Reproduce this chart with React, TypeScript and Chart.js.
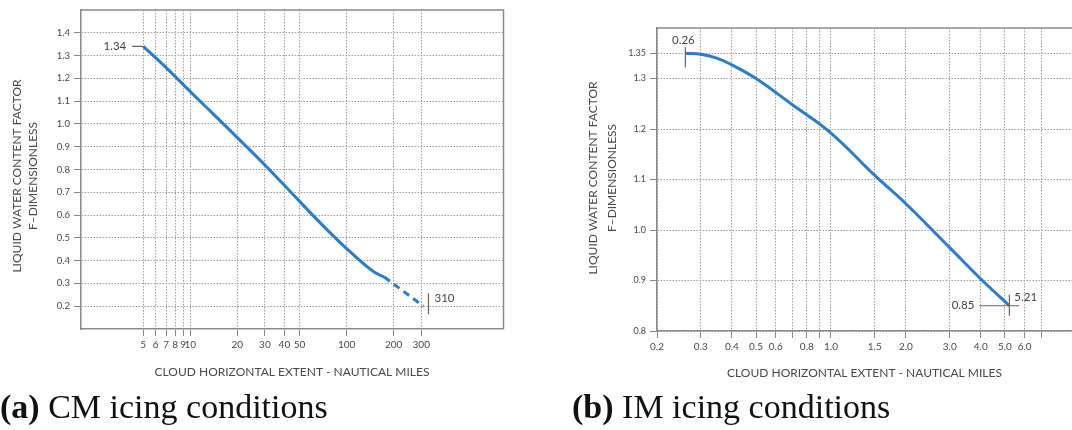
import React, { useEffect, useRef } from "react";
import { Chart, registerables } from "chart.js";

Chart.register(...registerables);

// ---------- (a) CM icing conditions ----------
const cmSolidX = [5, 7, 10, 14, 20, 30, 50, 70, 100, 150, 174];
const cmSolidY = [1.34, 1.247, 1.142, 1.044, 0.94, 0.82, 0.66, 0.556, 0.453, 0.35, 0.328];
const cmDashX = [174, 310];
const cmDashY = [0.328, 0.2];
const cmXTicks = [5, 6, 7, 8, 9, 10, 20, 30, 40, 50, 100, 200, 300];
const cmXLabels = ["5", "6", "7", "8", "9", "10", "20", "30", "40", "50", "100", "200", "300"];
const cmYTicks = [0.2, 0.3, 0.4, 0.5, 0.6, 0.7, 0.8, 0.9, 1.0, 1.1, 1.2, 1.3, 1.4];
const cmYLabels = ["0.2", "0.3", "0.4", "0.5", "0.6", "0.7", "0.8", "0.9", "1.0", "1.1", "1.2", "1.3", "1.4"];

// ---------- (b) IM icing conditions ----------
const imX = [0.26, 0.3, 0.35, 0.4, 0.5, 0.7, 1.0, 1.5, 2.0, 3.0, 4.0, 5.21];
const imY = [1.35, 1.348, 1.34, 1.327, 1.3, 1.248, 1.192, 1.108, 1.052, 0.965, 0.903, 0.85];
const imXTicks = [0.2, 0.3, 0.4, 0.5, 0.6, 0.7, 0.8, 0.9, 1.0, 1.5, 2.0, 3.0, 4.0, 5.0, 6.0, 7.0];
const imXLabels = ["0.2", "0.3", "0.4", "0.5", "0.6", "", "0.8", "", "1.0", "1.5", "2.0", "3.0", "4.0", "5.0", "6.0", ""];
const imYTicks = [0.8, 0.9, 1.0, 1.1, 1.2, 1.3, 1.35];
const imYLabels = ["0.8", "0.9", "1.0", "1.1", "1.2", "1.3", "1.35"];

const xTitle = "CLOUD HORIZONTAL EXTENT - NAUTICAL MILES";
const yTitle = ["LIQUID WATER CONTENT FACTOR", "F\u2013DIMENSIONLESS"];

const FONT = "Lato, 'Open Sans', sans-serif";
const GRID = "#a0a0a0";
const AXIS = "#8a8a8a";
const TEXT = "#4a4a4a";
const BLUE = "#2c7cc6";

function pts(xs: number[], ys: number[]) {
  return xs.map((x, i) => ({ x, y: ys[i] }));
}

function framePlugin(drawRight: boolean) {
  return {
    id: "frame",
    afterDraw(chart: any) {
      const { ctx, chartArea: a } = chart;
      ctx.save();
      ctx.strokeStyle = AXIS;
      ctx.lineWidth = 1.5;
      ctx.beginPath();
      ctx.moveTo(a.left, a.top);
      ctx.lineTo(a.right + 0.5, a.top);
      if (drawRight) ctx.lineTo(a.right + 0.5, a.bottom);
      ctx.stroke();
      ctx.restore();
    },
  };
}

function yTitlePlugin(x1: number, x2: number, cy: number) {
  return {
    id: "ytitle",
    afterDraw(chart: any) {
      const { ctx } = chart;
      ctx.save();
      ctx.fillStyle = TEXT;
      ctx.font = `12px ${FONT}`;
      ctx.textAlign = "center";
      ctx.textBaseline = "middle";
      [x1, x2].forEach((x, i) => {
        ctx.save();
        ctx.translate(x, cy);
        ctx.rotate(-Math.PI / 2);
        ctx.fillText(yTitle[i], 0, 0);
        ctx.restore();
      });
      ctx.restore();
    },
  };
}

const cmNotes = {
  id: "cmnotes",
  afterDatasetsDraw(chart: any) {
    const { ctx, scales } = chart;
    const sx = scales.x.getPixelForValue(cmSolidX[0]);
    const sy = scales.y.getPixelForValue(cmSolidY[0]);
    const ex = scales.x.getPixelForValue(cmDashX[1]);
    const ey = scales.y.getPixelForValue(cmDashY[1]);
    ctx.save();
    ctx.strokeStyle = "#666";
    ctx.lineWidth = 1.2;
    ctx.beginPath();
    ctx.moveTo(sx - 11, sy);
    ctx.lineTo(sx, sy);
    ctx.moveTo(ex + 5, ey - 13);
    ctx.lineTo(ex + 5, ey + 8);
    ctx.stroke();
    ctx.fillStyle = "#444";
    ctx.font = `11.5px ${FONT}`;
    ctx.textBaseline = "middle";
    ctx.textAlign = "right";
    ctx.fillText(cmSolidY[0].toFixed(2), sx - 17, sy);
    ctx.textAlign = "left";
    ctx.fillText(String(cmDashX[1]), ex + 11, ey - 8);
    ctx.restore();
  },
};

const imNotes = {
  id: "imnotes",
  afterDatasetsDraw(chart: any) {
    const { ctx, scales } = chart;
    const n = imX.length - 1;
    const sx = scales.x.getPixelForValue(imX[0]);
    const sy = scales.y.getPixelForValue(imY[0]);
    const ex = scales.x.getPixelForValue(imX[n]);
    const ey = scales.y.getPixelForValue(imY[n]);
    ctx.save();
    ctx.strokeStyle = "#666";
    ctx.lineWidth = 1.2;
    ctx.beginPath();
    ctx.moveTo(sx, sy - 6);
    ctx.lineTo(sx, sy + 14);
    ctx.moveTo(ex, ey - 11);
    ctx.lineTo(ex, ey + 10);
    ctx.moveTo(ex - 30, ey);
    ctx.lineTo(ex + 10, ey);
    ctx.stroke();
    ctx.fillStyle = "#444";
    ctx.font = `11.5px ${FONT}`;
    ctx.textBaseline = "middle";
    ctx.textAlign = "center";
    ctx.fillText(imX[0].toFixed(2), sx - 2, sy - 13);
    ctx.textAlign = "right";
    ctx.fillText(imY[n].toFixed(2), ex - 35, ey);
    ctx.textAlign = "left";
    ctx.fillText(imX[n].toFixed(2), ex + 5, ey - 8);
    ctx.restore();
  },
};

function makeOptions(o: {
  xmin: number; xmax: number; xTicks: number[]; xLabels: string[];
  ymin: number; ymax: number; yTicks: number[]; yLabels: string[];
  yWidth: number; xHeight: number; padTop: number; padRight: number;
  yFont: number; xTitlePad: number;
}) {
  return {
    responsive: false,
    animation: false as const,
    devicePixelRatio: 1,
    layout: { padding: { top: o.padTop, right: o.padRight, left: 0, bottom: 0 } },
    plugins: { legend: { display: false }, tooltip: { enabled: false } },
    scales: {
      x: {
        type: "logarithmic" as const,
        min: o.xmin,
        max: o.xmax,
        afterBuildTicks: (s: any) => {
          s.ticks = o.xTicks.map((v) => ({ value: v }));
        },
        afterFit: (s: any) => {
          s.height = o.xHeight;
        },
        ticks: {
          autoSkip: false,
          maxRotation: 0,
          minRotation: 0,
          padding: 3,
          color: TEXT,
          font: { family: FONT, size: 10 },
          callback: (_v: any, i: number) => o.xLabels[i],
        },
        grid: { color: GRID, lineWidth: 1, tickLength: 7, tickColor: AXIS, tickWidth: 1 },
        border: { color: AXIS, width: 1.5, dash: [1.5, 1.5] },
        title: {
          display: true,
          text: xTitle,
          color: TEXT,
          font: { family: FONT, size: 12 },
          padding: { top: 0, bottom: o.xTitlePad },
        },
      },
      y: {
        type: "linear" as const,
        min: o.ymin,
        max: o.ymax,
        afterBuildTicks: (s: any) => {
          s.ticks = o.yTicks.map((v) => ({ value: v }));
        },
        afterFit: (s: any) => {
          s.width = o.yWidth;
        },
        ticks: {
          autoSkip: false,
          padding: 4,
          color: TEXT,
          font: { family: FONT, size: o.yFont },
          callback: (_v: any, i: number) => o.yLabels[i],
        },
        grid: { color: GRID, lineWidth: 1, tickLength: 7, tickColor: AXIS, tickWidth: 1 },
        border: { color: AXIS, width: 1.5, dash: [1.5, 1.5] },
      },
    },
  };
}

export default function App() {
  const leftRef = useRef<HTMLCanvasElement>(null);
  const rightRef = useRef<HTMLCanvasElement>(null);

  useEffect(() => {
    const left = new Chart(leftRef.current!, {
      type: "line",
      data: {
        datasets: [
          {
            data: pts(cmSolidX, cmSolidY),
            borderColor: BLUE,
            borderWidth: 3,
            pointRadius: 0,
            cubicInterpolationMode: "monotone",
          },
          {
            data: pts(cmDashX, cmDashY),
            borderColor: BLUE,
            borderWidth: 3,
            borderDash: [7, 5],
            pointRadius: 0,
          },
        ],
      },
      options: makeOptions({
        xmin: 2, xmax: 1000, xTicks: cmXTicks, xLabels: cmXLabels,
        ymin: 0.1, ymax: 1.5, yTicks: cmYTicks, yLabels: cmYLabels,
        yWidth: 81, xHeight: 61, padTop: 10, padRight: 37, yFont: 9.5, xTitlePad: 11,
      }) as any,
      plugins: [framePlugin(true), yTitlePlugin(17, 33, 176), cmNotes],
    });
    const right = new Chart(rightRef.current!, {
      type: "line",
      data: {
        datasets: [
          {
            data: pts(imX, imY),
            borderColor: BLUE,
            borderWidth: 3,
            pointRadius: 0,
            tension: 0.4,
          },
        ],
      },
      options: makeOptions({
        xmin: 0.2, xmax: 9.3, xTicks: imXTicks, xLabels: imXLabels,
        ymin: 0.8, ymax: 1.4, yTicks: imYTicks, yLabels: imYLabels,
        yWidth: 97, xHeight: 59, padTop: 28, padRight: 0, yFont: 9, xTitlePad: 10,
      }) as any,
      plugins: [framePlugin(false), yTitlePlugin(33, 52, 178), imNotes],
    });
    return () => {
      left.destroy();
      right.destroy();
    };
  }, []);

  const capStyle: React.CSSProperties = {
    position: "absolute",
    top: 390,
    fontFamily: "'Liberation Serif', serif",
    fontSize: 34,
    lineHeight: "34px",
    color: "#111",
    whiteSpace: "nowrap",
  };

  return (
    <div style={{ position: "absolute", left: 0, top: 0, width: 1072, height: 430, background: "#fff", overflow: "hidden" }}>
      <canvas ref={leftRef} width={540} height={390} style={{ position: "absolute", left: 0, top: 0, width: 540, height: 390 }} />
      <canvas ref={rightRef} width={512} height={390} style={{ position: "absolute", left: 560, top: 0, width: 512, height: 390 }} />
      <div style={{ ...capStyle, left: 0 }}>
        <b>(a)</b> CM icing conditions
      </div>
      <div style={{ ...capStyle, left: 572 }}>
        <b>(b)</b> IM icing conditions
      </div>
    </div>
  );
}
